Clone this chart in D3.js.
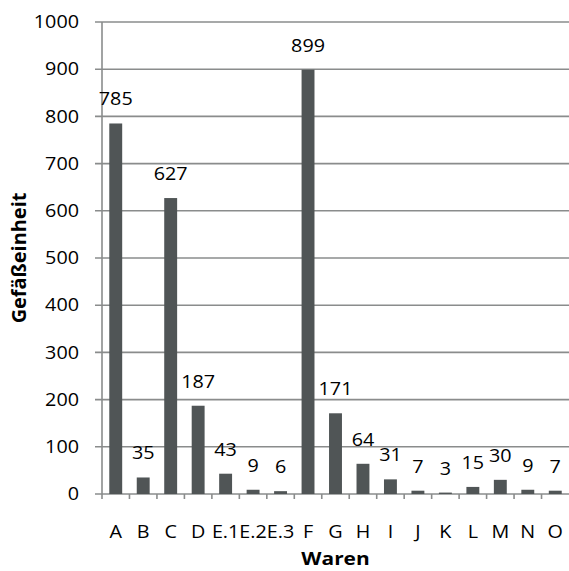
<!DOCTYPE html>
<html><head><meta charset="utf-8">
<script src="https://cdn.jsdelivr.net/npm/d3@7"></script>
<style>body{margin:0;background:#fff}svg{display:block}text{font-family:"Open Sans",sans-serif;fill:#000}</style>
</head><body><svg id="c" width="569" height="571"></svg>
<script>
const categories = ["A","B","C","D","E.1","E.2","E.3","F","G","H","I","J","K","L","M","N","O"];
const values = [785,35,627,187,43,9,6,899,171,64,31,7,3,15,30,9,7];
const yTicks = [0,100,200,300,400,500,600,700,800,900,1000];
const yTitle = "Gefäßeinheit";
const xTitle = "Waren";

const svg = d3.select("#c");
const L = 102, R = 569, T = 22, B = 494;
const SX = 1.13, FS = 17.5;
const x = d3.scaleBand().domain(categories).range([L, R]).paddingInner(0.53).paddingOuter(0.265);
const xb = d3.scaleBand().domain(categories).range([L, R]);
const y = d3.scaleLinear().domain([0, 1000]).range([B, T]);
const grid = "#8a8c8c";

svg.append("g").selectAll("line").data(yTicks).join("line")
  .attr("x1", L - 7).attr("x2", R).attr("y1", d => y(d)).attr("y2", d => y(d))
  .attr("stroke", grid).attr("stroke-width", 1.6);
svg.append("line").attr("x1", L).attr("x2", L).attr("y1", T).attr("y2", B + 5)
  .attr("stroke", grid).attr("stroke-width", 1.6);
const bounds = categories.map(c => xb(c)).concat([R]);
svg.append("g").selectAll("line").data(bounds.slice(1, -1)).join("line")
  .attr("x1", d => d).attr("x2", d => d).attr("y1", B).attr("y2", B + 5)
  .attr("stroke", grid).attr("stroke-width", 1.6);

svg.append("g").selectAll("text").data(yTicks).join("text")
  .attr("transform", d => `translate(79,${y(d)}) scale(${SX},1)`).attr("dy", "0.35em")
  .attr("text-anchor", "end").attr("font-size", FS).text(d => d);

svg.append("g").selectAll("rect").data(values).join("rect")
  .attr("x", (d, i) => x(categories[i])).attr("width", x.bandwidth())
  .attr("y", d => y(d)).attr("height", d => B - y(d))
  .attr("fill", "#505556");

svg.append("g").selectAll("text").data(values).join("text")
  .attr("transform", (d, i) => `translate(${xb(categories[i]) + xb.bandwidth() / 2},${y(d) - 18}) scale(${SX},1)`)
  .attr("text-anchor", "middle").attr("font-size", FS).text(d => d);

svg.append("g").selectAll("text").data(categories).join("text")
  .attr("transform", d => `translate(${xb(d) + xb.bandwidth() / 2},538) scale(${SX},1)`)
  .attr("text-anchor", "middle").attr("font-size", FS).text(d => d);

svg.append("text").attr("transform", `translate(${(L + R) / 2},565) scale(${SX},1)`).attr("text-anchor", "middle")
  .attr("font-size", 18.5).attr("font-weight", "bold").text(xTitle);
svg.append("text").attr("transform", `translate(26,${(T + B) / 2}) rotate(-90) scale(1.05,1)`)
  .attr("text-anchor", "middle").attr("font-size", 19).attr("font-weight", "bold").text(yTitle);
</script></body></html>
